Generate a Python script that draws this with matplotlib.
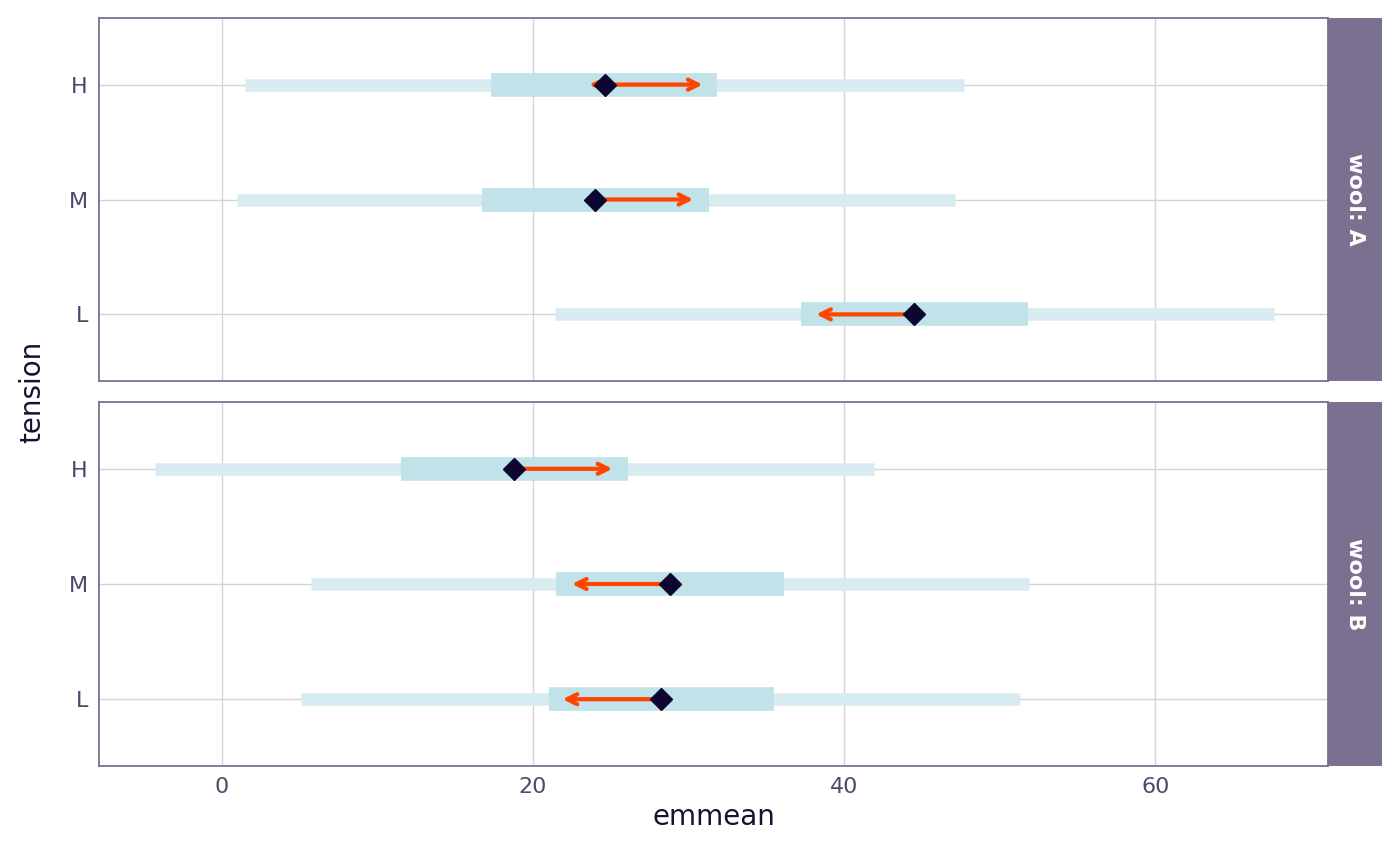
import matplotlib.pyplot as plt

tension = ['L', 'M', 'H']
wools = ['A', 'B']
emmean = {'A': [44.5, 24.0, 24.6], 'B': [28.2, 28.8, 18.8]}
ci_low = {'A': [21.4, 1.0, 1.5], 'B': [5.1, 5.7, -4.3]}
ci_high = {'A': [67.6, 47.1, 47.7], 'B': [51.3, 51.9, 41.9]}
box_low = {'A': [37.2, 16.7, 17.3], 'B': [21.0, 21.5, 11.5]}
box_high = {'A': [51.8, 31.3, 31.8], 'B': [35.5, 36.1, 26.1]}
arrow_left = {'A': [38.2, 24.0, 23.6], 'B': [21.9, 22.5, 18.8]}
arrow_right = {'A': [44.5, 30.3, 30.9], 'B': [29.0, 28.8, 25.1]}

border = '#7a7190'
fig = plt.figure(figsize=(14, 8.66), dpi=100)
axes = [fig.add_axes([99/1400, 1-381/866, 1229/1400, 363/866]),
        fig.add_axes([99/1400, 1-766/866, 1229/1400, 364/866])]

for ax, w in zip(axes, wools):
    ys = range(1, len(tension) + 1)
    for y, lo, hi in zip(ys, ci_low[w], ci_high[w]):
        ax.plot([lo, hi], [y, y], color='#d6ecf1', lw=9, solid_capstyle='butt', zorder=2)
    for y, lo, hi in zip(ys, box_low[w], box_high[w]):
        ax.plot([lo, hi], [y, y], color='#c0e2e8', lw=17, solid_capstyle='butt', zorder=3)
    for y, m, al, ar in zip(ys, emmean[w], arrow_left[w], arrow_right[w]):
        for end in (al, ar):
            if abs(end - m) > 0.3:
                ax.annotate('', xy=(end, y), xytext=(m, y),
                            arrowprops=dict(arrowstyle='->', color='#ff4500', lw=3,
                                            mutation_scale=18, shrinkA=0, shrinkB=0),
                            zorder=4)
    ax.plot(emmean[w], list(ys), 'D', color='#0d0630', ms=11, zorder=5)

    ax.set_xlim(-7.9, 71.1)
    ax.set_ylim(0.42, 3.58)
    ax.set_yticks(list(ys))
    ax.set_yticklabels(tension)
    ax.set_xticks([0, 20, 40, 60])
    ax.grid(True, color='#d3d3d8', lw=1)
    ax.set_axisbelow(True)
    for s in ax.spines.values():
        s.set_color(border)
        s.set_linewidth(1.3)
    ax.tick_params(length=0, labelsize=16, colors='#4e4a6b', pad=8)
    # strip
    pos = ax.get_position()
    strip = fig.add_axes([1328/1400, pos.y0, 54/1400, pos.height])
    strip.set_facecolor(border)
    strip.set_xticks([]); strip.set_yticks([])
    for s in strip.spines.values():
        s.set_visible(False)
    strip.text(0.5, 0.5, f'wool: {w}', rotation=270, ha='center', va='center',
               color='white', fontsize=16, fontweight='bold', transform=strip.transAxes)

axes[0].tick_params(labelbottom=False)
axes[1].set_xlabel('emmean', fontsize=20, color='#1a1033')
fig.text(32/1400, 1-392/866, 'tension', rotation=90, ha='center', va='center',
         fontsize=20, color='#1a1033')

fig.savefig('out.png')
